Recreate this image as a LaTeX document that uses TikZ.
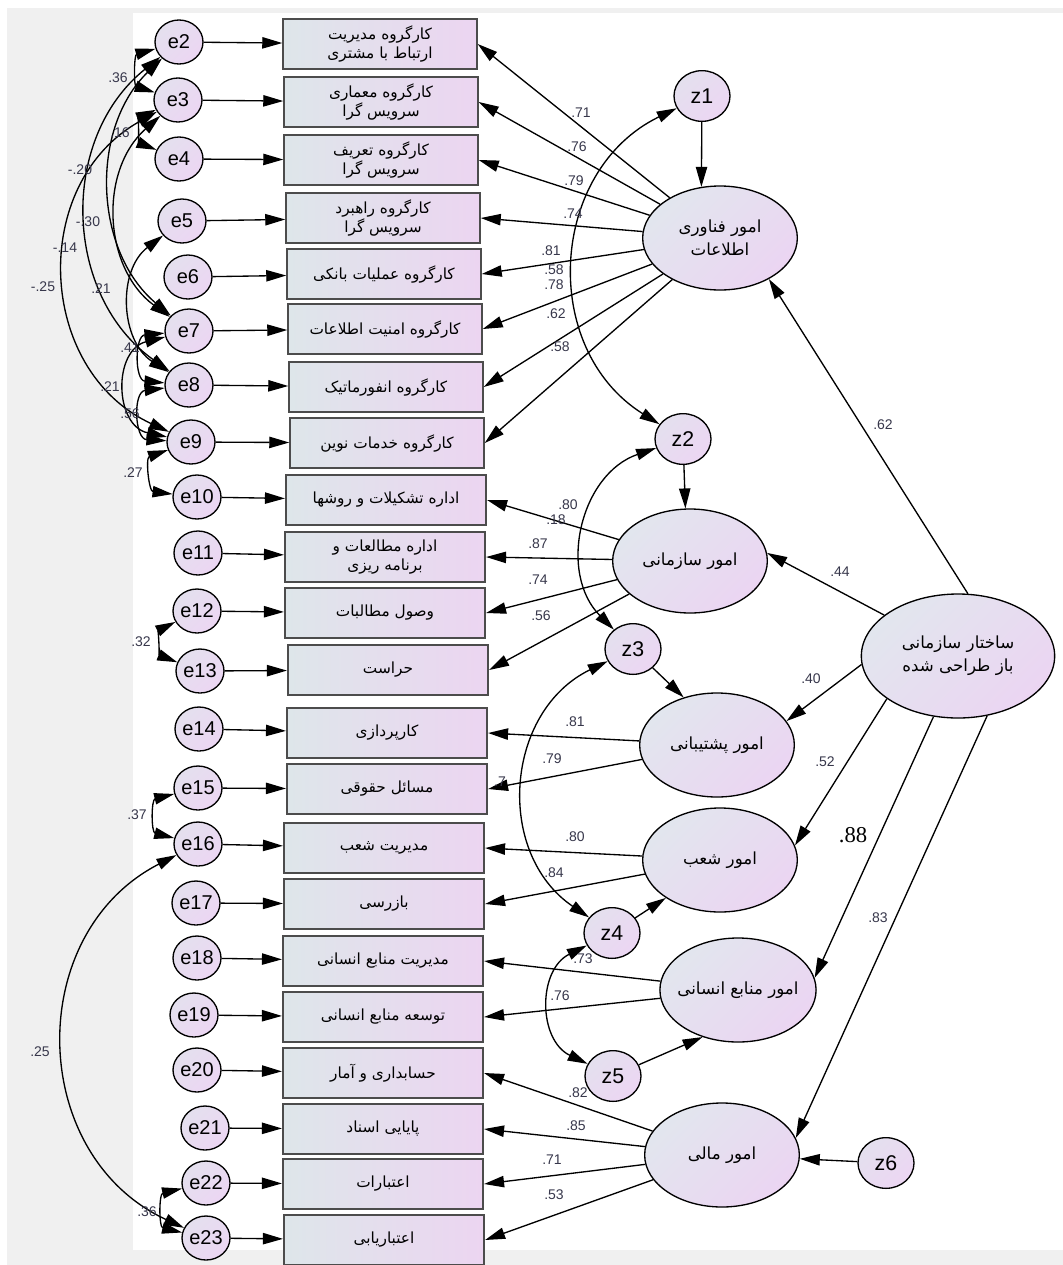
\documentclass[tikz,border=0pt]{standalone}
\usepackage{fontspec}
\setmainfont{Liberation Sans}
\newfontfamily\arabicfont[Script=Arabic]{DejaVu Sans}
\newfontfamily\serifnum{Liberation Serif}
\TeXXeTstate=1
\usetikzlibrary{shapes.geometric,arrows.meta}
\newcommand{\fatext}[1]{{\arabicfont\beginR #1\endR}}
\definecolor{bggray}{RGB}{240,240,240}
\definecolor{errL}{RGB}{228,224,238}
\definecolor{errR}{RGB}{236,214,243}
\definecolor{boxL}{RGB}{222,230,234}
\definecolor{boxR}{RGB}{236,213,241}
\definecolor{latL}{RGB}{226,230,238}
\definecolor{latR}{RGB}{235,213,242}
\definecolor{numc}{RGB}{55,55,75}
\begin{document}
\begin{tikzpicture}
  [x=0.75pt,y=-0.75pt,>={Triangle[length=15pt,width=8.5pt]},
   err/.style={ellipse,draw,line width=1pt,inner sep=0pt,minimum width=36pt,minimum height=33pt,
     left color=errL,right color=errR,shading angle=45,font=\fontsize{15}{15}\selectfont},
   dst/.style={err,minimum width=42pt,minimum height=38pt,font=\fontsize{16}{16}\selectfont},
   obs/.style={rectangle,draw=black!70,line width=1.6pt,inner sep=0pt,minimum width=145pt,minimum height=38pt,
     left color=boxL,right color=boxR,align=center,font=\fontsize{11.5}{14.5}\selectfont},
   lat/.style={ellipse,draw,line width=1pt,inner sep=-4pt,minimum width=116pt,minimum height=78pt,
     left color=latL,right color=latR,shading angle=45,align=center,font=\fontsize{12.5}{17}\selectfont},
   wt/.style={inner sep=0pt,text=numc,font=\fontsize{10.5}{10.5}\selectfont},
   lnk/.style={line width=1pt,black},
   cov/.style={line width=1pt,black}]

% page, grey frame and white canvas
\fill[white] (0,0) rectangle (1063,1265);
\fill[bggray] (7,8) rectangle (1063,1265);
\fill[white] (133,13) rectangle (1063,1250);
\useasboundingbox (0,0) rectangle (1063,1265);

% error terms
\node (e2) [err] at (179,42) {e2};
\node (e3) [err] at (178,100) {e3};
\node (e4) [err] at (179,159) {e4};
\node (e5) [err] at (182,221) {e5};
\node (e6) [err] at (188,277) {e6};
\node (e7) [err] at (189,331) {e7};
\node (e8) [err] at (189,385) {e8};
\node (e9) [err] at (191,442) {e9};
\node (e10) [err] at (197,497) {e10};
\node (e11) [err] at (198,553) {e11};
\node (e12) [err] at (197,611) {e12};
\node (e13) [err] at (200,671) {e13};
\node (e14) [err] at (199,729) {e14};
\node (e15) [err] at (198,788) {e15};
\node (e16) [err] at (198,844) {e16};
\node (e17) [err] at (196,903) {e17};
\node (e18) [err] at (197,958) {e18};
\node (e19) [err] at (194,1015) {e19};
\node (e20) [err] at (197,1070) {e20};
\node (e21) [err] at (205,1128) {e21};
\node (e22) [err] at (206,1183) {e22};
\node (e23) [err] at (206,1238) {e23};

% observed variables
\node (b1) [obs] at (380,44) {\fatext{کارگروه مدیریت}\\\fatext{ارتباط با مشتری}};
\node (b2) [obs] at (381,102) {\fatext{کارگروه معماری}\\\fatext{سرویس گرا}};
\node (b3) [obs] at (381,160) {\fatext{کارگروه تعریف}\\\fatext{سرویس گرا}};
\node (b4) [obs] at (383,218) {\fatext{کارگروه راهبرد}\\\fatext{سرویس گرا}};
\node (b5) [obs] at (384,274) {\fatext{کارگروه عملیات بانکی}};
\node (b6) [obs] at (385,329) {\fatext{کارگروه امنیت اطلاعات}};
\node (b7) [obs] at (386,387) {\fatext{کارگروه انفورماتیک}};
\node (b8) [obs] at (387,443) {\fatext{کارگروه خدمات نوین}};
\node (b9) [obs,minimum width=150pt] at (386,500) {\fatext{اداره تشکیلات و روشها}};
\node (b10) [obs,minimum width=150pt] at (385,557) {\fatext{اداره مطالعات و}\\\fatext{برنامه ریزی}};
\node (b11) [obs,minimum width=150pt] at (385,613) {\fatext{وصول مطالبات}};
\node (b12) [obs,minimum width=150pt] at (388,670) {\fatext{حراست}};
\node (b13) [obs,minimum width=150pt] at (387,733) {\fatext{کارپردازی}};
\node (b14) [obs,minimum width=150pt] at (387,789) {\fatext{مسائل حقوقی}};
\node (b15) [obs,minimum width=150pt] at (384,848) {\fatext{مدیریت شعب}};
\node (b16) [obs,minimum width=150pt] at (384,904) {\fatext{بازرسی}};
\node (b17) [obs,minimum width=150pt] at (383,961) {\fatext{مدیریت منابع انسانی}};
\node (b18) [obs,minimum width=150pt] at (383,1017) {\fatext{توسعه منابع انسانی}};
\node (b19) [obs,minimum width=150pt] at (383,1073) {\fatext{حسابداری و آمار}};
\node (b20) [obs,minimum width=150pt] at (383,1129) {\fatext{پایایی اسناد}};
\node (b21) [obs,minimum width=150pt] at (383,1184) {\fatext{اعتبارات}};
\node (b22) [obs,minimum width=150pt] at (384,1240) {\fatext{اعتباریابی}};

% latent variables
\node (l1) [lat] at (720,238) {\fatext{امور فناوری}\\\fatext{اطلاعات}};
\node (l2) [lat] at (690,561) {\fatext{امور سازمانی}};
\node (l3) [lat] at (717,745) {\fatext{امور پشتیبانی}};
\node (l4) [lat] at (720,860) {\fatext{امور شعب}};
\node (l5) [lat] at (738,990) {\fatext{امور منابع انسانی}};
\node (l6) [lat] at (722,1155) {\fatext{امور مالی}};
\node (s) [lat,minimum width=145pt,minimum height=93pt] at (958,656) {\fatext{ساختار سازمانی}\\\fatext{باز طراحی شده}};

% disturbances
\node (z1) [dst] at (702,96) {z1};
\node (z2) [dst] at (683,439) {z2};
\node (z3) [dst] at (633,649) {z3};
\node (z4) [dst] at (612,933) {z4};
\node (z5) [dst] at (613,1076) {z5};
\node (z6) [dst] at (886,1163) {z6};

% errors to indicators
\path [lnk]
  (e2) edge [->] (b1)  (e3) edge [->] (b2)  (e4) edge [->] (b3)  (e5) edge [->] (b4)
  (e6) edge [->] (b5)  (e7) edge [->] (b6)  (e8) edge [->] (b7)  (e9) edge [->] (b8)
  (e10) edge [->] (b9)  (e11) edge [->] (b10)  (e12) edge [->] (b11)  (e13) edge [->] (b12)
  (e14) edge [->] (b13)  (e15) edge [->] (b14)  (e16) edge [->] (b15)  (e17) edge [->] (b16)
  (e18) edge [->] (b17)  (e19) edge [->] (b18)  (e20) edge [->] (b19)  (e21) edge [->] (b20)
  (e22) edge [->] (b21)  (e23) edge [->] (b22);

% loadings
\path [lnk]
  (l1) edge [->] (b1.east)  (l1) edge [->] (b2.east)  (l1) edge [->] (b3.east)  (l1) edge [->] (b4.east)
  (l1) edge [->] (b5.east)  (l1) edge [->] (b6.east)  (l1) edge [->] (b7.east)  (l1) edge [->] (b8.east)
  (l2) edge [->] (b9.east)  (l2) edge [->] (b10.east)  (l2) edge [->] (b11.east)  (l2) edge [->] (b12.east)
  (l3) edge [->] (b13.east)  (l3) edge [->] (b14.east)
  (l4) edge [->] (b15.east)  (l4) edge [->] (b16.east)
  (l5) edge [->] (b17.east)  (l5) edge [->] (b18.east)
  (l6) edge [->] (b19.east)  (l6) edge [->] (b20.east)  (l6) edge [->] (b21.east)  (l6) edge [->] (b22.east);

% second order paths
\path [lnk]
  (s.81) edge [->] (l1.-40)
  (s.151) edge [->] (l2.6)
  (s.185) edge [->] (l3.19)
  (s.211) edge [->] (l4.11)
  (s.248) edge [->] (l5.9)
  (s.296) edge [->] (l6.13);

% disturbances to factors
\path [lnk]
  (z1) edge [->] (l1.110)  (z2) edge [->] (l2.95)  (z3) edge [->] (l3.125)
  (z4) edge [->] (l4.215)  (z5) edge [->] (l5.233)  (z6) edge [->] (l6);

% covariances
\path [cov]
  (z1) edge [<->,bend right=61,looseness=1.15] (z2)
  (z2) edge [<->,bend right=58,looseness=1.1] (z3)
  (z3) edge [<->,bend right=60,looseness=1.14] (z4)
  (z4) edge [<->,bend right=64,looseness=1.19] (z5);
\path [cov]
  (e2) edge [<->,bend right=73,looseness=1.3] (e3)
  (e3) edge [<->,bend right=67,looseness=1.2] (e4)
  (e2) edge [<->,bend right=48,looseness=1.0] (e7)
  (e3) edge [<->,bend right=51,looseness=1.05] (e7)
  (e2) edge [<->,bend right=53,looseness=1.06] (e8)
  (e3) edge [<->,bend right=63,looseness=1.17] (e9)
  (e5) edge [<->,bend right=55,looseness=1.08] (e8)
  (e7) edge [<->,bend right=85,looseness=1.55] (e8)
  (e7) edge [<->,bend right=77,looseness=1.38] (e9)
  (e8) edge [<->,bend right=85,looseness=1.55] (e9)
  (e9) edge [<->,bend right=77,looseness=1.38] (e10)
  (e12) edge [<->,bend right=66,looseness=1.2] (e13)
  (e15) edge [<->,bend right=76,looseness=1.38] (e16)
  (e16) edge [<->,bend right=64,looseness=1.18] (e23)
  (e22) edge [<->,bend right=77,looseness=1.39] (e23);

% estimates
\node (c1) [wt] at (118,78) {.36};
\node (c2) [wt] at (120,133) {.16};
\node (c3) [wt] at (80,170) {-.20};
\node (c4) [wt] at (88,222) {-.30};
\node (c5) [wt] at (65,248) {-.14};
\node (c6) [wt] at (43,287) {-.25};
\node (c7) [wt] at (101,289) {.21};
\node (c8) [wt] at (130,348) {.41};
\node (c9) [wt] at (110,387) {.21};
\node (c10) [wt] at (130,414) {.56};
\node (c11) [wt] at (133,473) {.27};
\node (c12) [wt] at (141,642) {.32};
\node (c13) [wt] at (137,815) {.37};
\node (c14) [wt] at (40,1052) {.25};
\node (c15) [wt] at (147,1212) {.36};
\node (w1) [wt] at (581,113) {.71};
\node (w2) [wt] at (577,147) {.76};
\node (w3) [wt] at (574,181) {.79};
\node (w4) [wt] at (573,214) {.74};
\node (w5) [wt] at (551,251) {.81};
\node (w6) [wt] at (554,270) {.58};
\node (w7) [wt] at (554,285) {.78};
\node (w8) [wt] at (556,314) {.62};
\node (w9) [wt] at (560,347) {.58};
\node (w10) [wt] at (568,505) {.80};
\node (w11) [wt] at (556,520) {.18};
\node (w12) [wt] at (538,544) {.87};
\node (w13) [wt] at (538,580) {.74};
\node (w14) [wt] at (541,616) {.56};
\node (w15) [wt] at (575,722) {.81};
\node (w16) [wt] at (552,759) {.79};
\node (w17) [wt] at (500,782) {.7};
\node (w18) [wt] at (575,837) {.80};
\node (w19) [wt] at (554,873) {.84};
\node (w20) [wt] at (583,959) {.73};
\node (w21) [wt] at (560,996) {.76};
\node (w22) [wt] at (578,1093) {.82};
\node (w23) [wt] at (576,1126) {.85};
\node (w24) [wt] at (552,1160) {.71};
\node (w25) [wt] at (554,1195) {.53};
\node (p1) [wt] at (883,425) {.62};
\node (p2) [wt] at (840,572) {.44};
\node (p3) [wt] at (811,679) {.40};
\node (p4) [wt] at (825,762) {.52};
\node (p5) [wt,text=black,font=\serifnum\fontsize{17}{17}\selectfont] at (853,835) {.88};
\node (p6) [wt] at (878,918) {.83};
\end{tikzpicture}
\end{document}
